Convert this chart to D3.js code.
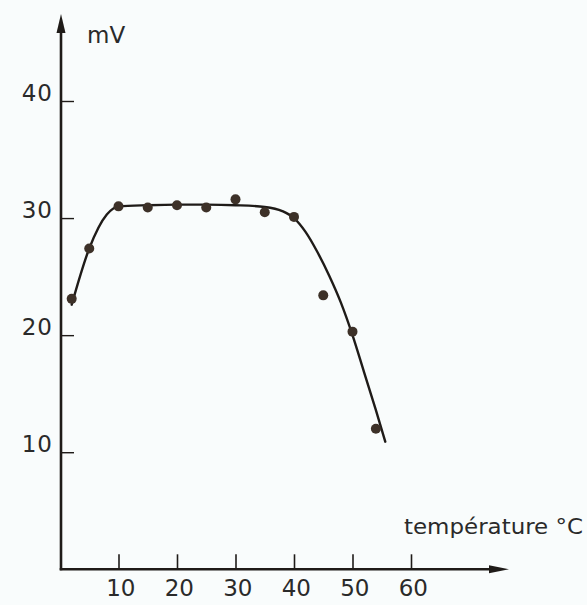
<!DOCTYPE html>
<html>
<head>
<meta charset="utf-8">
<script src="https://cdn.jsdelivr.net/npm/d3@7"></script>
<style>
html,body{margin:0;padding:0;background:#f9fcfc;}
svg{display:block;}
text{font-family:"DejaVu Sans",sans-serif;fill:#2a2a2a;}
</style>
</head>
<body>
<svg id="chart" width="587" height="605"></svg>
<script>
// Measured points
const temps = [2, 5, 10, 15, 20, 25, 30, 35, 40, 45, 50, 54];
const mV    = [23.1, 27.4, 31.0, 30.9, 31.1, 30.9, 31.6, 30.5, 30.1, 23.4, 20.3, 12.0];
// Hand-drawn fitted curve
const curveT = [2, 5, 8, 10, 15, 20, 25, 30, 35, 38, 40, 42, 44, 46, 48, 50, 52, 54, 55.6];
const curveV = [22.6, 27.4, 30.3, 31.0, 31.1, 31.15, 31.15, 31.1, 30.95, 30.6, 30.0, 28.8, 27.1, 25.1, 22.8, 20.0, 16.8, 13.6, 10.9];
const xTicks = [10, 20, 30, 40, 50, 60];
const yTicks = [10, 20, 30, 40];
const yLabel = "mV";
const xLabel = "température °C";

const svg = d3.select("#chart");
const x = d3.scaleLinear().domain([0, 60]).range([60, 411]);
const y = d3.scaleLinear().domain([0, 40]).range([569.3, 101]);
const ink = "#1f1b18";

// X axis
const gx = svg.append("g").attr("transform", `translate(0,${y(0)})`)
  .call(d3.axisBottom(x).tickValues(xTicks).tickSize(-15).tickPadding(10).tickFormat(d3.format("d")));
gx.select(".domain").remove();
gx.selectAll(".tick line").attr("stroke", ink).attr("stroke-width", 1.6);
gx.selectAll(".tick text").attr("font-size", 23).attr("dx", "0.08em")
  .attr("font-family", "DejaVu Sans").attr("fill", "#2a2a2a");

// Y axis
const gy = svg.append("g").attr("transform", `translate(${x(0)+1},0)`)
  .call(d3.axisLeft(y).tickValues(yTicks).tickSize(-13).tickPadding(8).tickFormat(d3.format("d")));
gy.select(".domain").remove();
gy.selectAll(".tick line").attr("stroke", ink).attr("stroke-width", 1.4);
gy.selectAll(".tick text").attr("font-size", 23).attr("letter-spacing", 1)
  .attr("dy", "-0.02em").attr("font-family", "DejaVu Sans").attr("fill", "#2a2a2a");

// Axis lines with arrows
const x0 = x(0) + 1, y0 = y(0);
svg.append("line").attr("x1", x0).attr("y1", y0 + 1).attr("x2", x0).attr("y2", 22)
  .attr("stroke", ink).attr("stroke-width", 2.6);
svg.append("path").attr("d", `M${x0},14 L${x0-4.5},33 L${x0+4.5},33 Z`).attr("fill", ink);
svg.append("line").attr("x1", x0 - 1.3).attr("y1", y0).attr("x2", 500).attr("y2", y0)
  .attr("stroke", ink).attr("stroke-width", 2.6);
svg.append("path").attr("d", `M509,${y0} L489,${y0-4} L489,${y0+4} Z`).attr("fill", ink);

// Fitted curve
const curveData = curveT.map((t, i) => [t, curveV[i]]);
svg.append("path").datum(curveData)
  .attr("d", d3.line().x(d => x(d[0])).y(d => y(d[1])).curve(d3.curveMonotoneX))
  .attr("fill", "none").attr("stroke", ink).attr("stroke-width", 2.4).attr("stroke-linecap", "round");

// Points
svg.append("g").selectAll("circle").data(temps.map((t, i) => [t, mV[i]])).join("circle")
  .attr("cx", d => x(d[0])).attr("cy", d => y(d[1])).attr("r", 5)
  .attr("fill", "#3d3128");

// Labels
svg.append("text").attr("x", 87).attr("y", 43).attr("font-size", 23).text(yLabel);
svg.append("text").attr("x", 404).attr("y", 534).attr("font-size", 22)
  .attr("font-family", "Liberation Sans")
  .attr("textLength", 179).attr("lengthAdjust", "spacingAndGlyphs").text(xLabel);
</script>
</body>
</html>
